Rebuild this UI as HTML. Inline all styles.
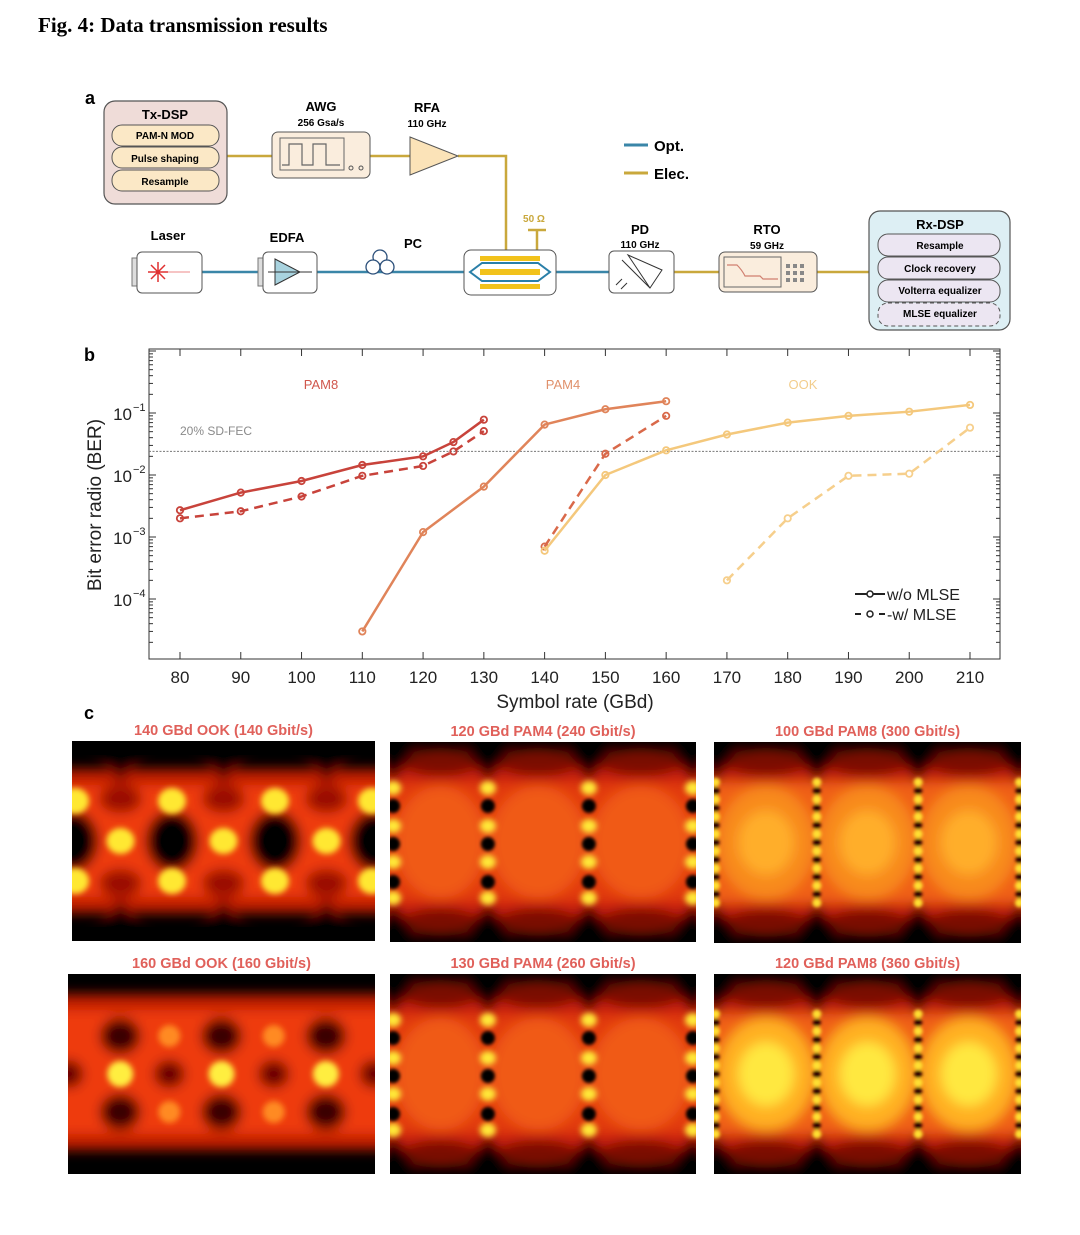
<!DOCTYPE html>
<html><head><meta charset="utf-8">
<style>
html,body{margin:0;padding:0;background:#fff;}
body{width:1080px;height:1235px;position:relative;overflow:hidden;font-family:"Liberation Sans",sans-serif;}
#title{position:absolute;left:38px;top:13px;font-family:"Liberation Serif",serif;font-weight:bold;font-size:21px;color:#000;}
svg{position:absolute;left:0;top:0;}
</style></head>
<body>
<div id="title">Fig. 4: Data transmission results</div>
<svg id="root" width="1080" height="1235" viewBox="0 0 1080 1235" xmlns="http://www.w3.org/2000/svg" font-family="Liberation Sans, sans-serif">
<defs>
<filter id="b6" x="-20%" y="-20%" width="140%" height="140%"><feGaussianBlur stdDeviation="6"/></filter>
<filter id="b3" x="-50%" y="-50%" width="200%" height="200%"><feGaussianBlur stdDeviation="3"/></filter>
<filter id="b2" x="-50%" y="-50%" width="200%" height="200%"><feGaussianBlur stdDeviation="1.6"/></filter>
</defs>
<!-- Panel a -->
<g id="diagram" font-weight="bold" text-anchor="middle">
<text x="90" y="104" font-size="18">a</text>
<g stroke="#c9a83c" stroke-width="2.5" fill="none">
<path d="M227 156 H272 M370 156 H410 M458 156 H506 V250"/>
<path d="M674 272 H719 M817 272 H869"/>
<path d="M537 250 V230 M528 230 H546"/>
</g>
<g stroke="#3a86a8" stroke-width="2.5" fill="none">
<path d="M202 272 H260 M317 272 H464 M556 272 H609"/>
</g>
<g>
<rect x="104" y="101" width="123" height="103" rx="11" fill="#efdcd8" stroke="#555" stroke-width="1.2"/>
<text x="165" y="119" font-size="13">Tx-DSP</text>
<rect x="112" y="125" width="107" height="21" rx="10" fill="#fbe8c6" stroke="#555"/>
<text x="165" y="139" font-size="10">PAM-N MOD</text>
<rect x="112" y="147" width="107" height="21" rx="10" fill="#fbe8c6" stroke="#555"/>
<text x="165" y="162" font-size="10">Pulse shaping</text>
<rect x="112" y="170" width="107" height="21" rx="10" fill="#fbe8c6" stroke="#555"/>
<text x="165" y="185" font-size="10">Resample</text>
</g>
<g>
<text x="321" y="111" font-size="13">AWG</text>
<text x="321" y="126" font-size="10">256 Gsa/s</text>
<rect x="272" y="132" width="98" height="46" rx="6" fill="#faeddd" stroke="#555"/>
<rect x="280" y="138" width="64" height="32" fill="none" stroke="#666"/>
<path d="M282 165 H289 V144 H302 V165 H313 V144 H326 V165 H340" fill="none" stroke="#666" stroke-width="1.2"/>
<circle cx="351" cy="168" r="2" fill="none" stroke="#555"/><circle cx="361" cy="168" r="2" fill="none" stroke="#555"/>
</g>
<g>
<text x="427" y="112" font-size="13">RFA</text>
<text x="427" y="127" font-size="10">110 GHz</text>
<path d="M410 137 L458 156 L410 175 Z" fill="#fbe3b8" stroke="#555"/>
</g>
<g text-anchor="start">
<line x1="624" y1="145" x2="648" y2="145" stroke="#3a86a8" stroke-width="3"/>
<text x="654" y="151" font-size="15">Opt.</text>
<line x1="624" y1="173" x2="648" y2="173" stroke="#c9a83c" stroke-width="3"/>
<text x="654" y="179" font-size="15">Elec.</text>
</g>
<g>
<text x="168" y="240" font-size="13">Laser</text>
<rect x="132" y="258" width="5" height="28" fill="#ddd" stroke="#777"/>
<rect x="137" y="252" width="65" height="41" rx="5" fill="#fff" stroke="#555"/>
<g stroke="#e03030" stroke-width="1.5"><path d="M148 272 H168 M158 262 V282 M151 265 L165 279 M165 265 L151 279"/></g>
<line x1="168" y1="272" x2="190" y2="272" stroke="#e88" stroke-width="1"/>
</g>
<g>
<text x="287" y="242" font-size="13">EDFA</text>
<rect x="258" y="258" width="5" height="28" fill="#ddd" stroke="#777"/>
<rect x="263" y="252" width="54" height="41" rx="5" fill="#fff" stroke="#555"/>
<path d="M275 259 L300 272 L275 285 Z" fill="#a9d3df" stroke="#333"/>
<line x1="268" y1="272" x2="312" y2="272" stroke="#333"/>
</g>
<g>
<text x="413" y="248" font-size="13">PC</text>
<g fill="#fff" stroke="#2b4f7a" stroke-width="1.3"><circle cx="380" cy="257" r="7"/><circle cx="373" cy="267" r="7"/><circle cx="387" cy="267" r="7"/></g>
</g>
<g>
<text x="534" y="222" font-size="10" fill="#c9a83c">50 Ω</text>
<rect x="464" y="250" width="92" height="45" rx="7" fill="#fff" stroke="#555"/>
<rect x="480" y="256" width="60" height="5" fill="#f2c21b"/>
<rect x="480" y="269" width="60" height="6" fill="#f2c21b"/>
<rect x="480" y="284" width="60" height="5" fill="#f2c21b"/>
<path d="M470 272 L482 263 H538 L550 272 L538 281 H482 Z" fill="none" stroke="#2a7fa8" stroke-width="2"/>
</g>
<g>
<text x="640" y="234" font-size="13">PD</text>
<text x="640" y="248" font-size="10">110 GHz</text>
<rect x="609" y="251" width="65" height="42" rx="5" fill="#fff" stroke="#555"/>
<path d="M622 260 L650 288 M628 255 L662 270 L650 288 Z M616 285 L622 279 M621 289 L627 283" fill="none" stroke="#333"/>
</g>
<g>
<text x="767" y="234" font-size="13">RTO</text>
<text x="767" y="249" font-size="10">59 GHz</text>
<rect x="719" y="252" width="98" height="40" rx="6" fill="#faeddd" stroke="#555"/>
<rect x="724" y="257" width="57" height="30" fill="none" stroke="#666"/>
<path d="M727 265 H737 Q742 270 745 276 H760 L763 279 H778" fill="none" stroke="#d08070" stroke-width="1.2"/>
<g fill="#888"><rect x="786" y="264" width="4" height="4"/><rect x="793" y="264" width="4" height="4"/><rect x="800" y="264" width="4" height="4"/><rect x="786" y="271" width="4" height="4"/><rect x="793" y="271" width="4" height="4"/><rect x="800" y="271" width="4" height="4"/><rect x="786" y="278" width="4" height="4"/><rect x="793" y="278" width="4" height="4"/><rect x="800" y="278" width="4" height="4"/></g>
</g>
<g>
<rect x="869" y="211" width="141" height="119" rx="11" fill="#ddeff4" stroke="#555" stroke-width="1.2"/>
<text x="940" y="229" font-size="13">Rx-DSP</text>
<rect x="878" y="234" width="122" height="22" rx="10" fill="#ece6f2" stroke="#555"/>
<text x="940" y="249" font-size="10">Resample</text>
<rect x="878" y="257" width="122" height="22" rx="10" fill="#ece6f2" stroke="#555"/>
<text x="940" y="272" font-size="10">Clock recovery</text>
<rect x="878" y="280" width="122" height="22" rx="10" fill="#ece6f2" stroke="#555"/>
<text x="940" y="294" font-size="10">Volterra equalizer</text>
<rect x="878" y="303" width="122" height="23" rx="10" fill="#ece6f2" stroke="#555" stroke-dasharray="4,3"/>
<text x="940" y="317" font-size="10">MLSE equalizer</text>
</g>
</g>

<text x="84" y="361" font-size="18" font-weight="bold">b</text>
<g id="chart"></g>

<text x="84" y="719" font-size="18" font-weight="bold">c</text>
<g id="eyes"></g>
</svg>
<script>
// ---- BER chart data ----
const xTicks = [80,90,100,110,120,130,140,150,160,170,180,190,200,210];
const yDecades = [-1,-2,-3,-4];
const pam8X = [80,90,100,110,120,125,130];
const pam8Solid = [2.7e-3,5.2e-3,8e-3,1.45e-2,2.0e-2,3.4e-2,7.8e-2];
const pam8Dash = [2.0e-3,2.6e-3,4.5e-3,9.7e-3,1.4e-2,2.4e-2,5.1e-2];
const pam4SolidX = [110,120,130,140,150,160];
const pam4Solid = [3e-5,1.2e-3,6.5e-3,6.5e-2,1.15e-1,1.55e-1];
const pam4DashX = [140,150,160];
const pam4Dash = [7e-4,2.2e-2,9e-2];
const ookSolidX = [140,150,160,170,180,190,200,210];
const ookSolid = [6e-4,1e-2,2.5e-2,4.5e-2,7e-2,9e-2,1.05e-1,1.35e-1];
const ookDashX = [170,180,190,200,210];
const ookDash = [2e-4,2e-3,9.7e-3,1.05e-2,5.8e-2];
const fecThreshold = 2.4e-2;

const NS="http://www.w3.org/2000/svg";
function mk(tag,attrs,parent){const e=document.createElementNS(NS,tag);for(const k in attrs)e.setAttribute(k,attrs[k]);parent.appendChild(e);return e;}
const chart=document.getElementById('chart');
const L=149,R=1000,T=349,B=659;
const xs=v=>180+(v-80)*(970-180)/130;
const ys=v=>413+(-1-Math.log10(v))*62;

const frame=mk('rect',{x:L,y:T,width:R-L,height:B-T,fill:'none',stroke:'#333','stroke-width':1},chart);


xTicks.forEach(t=>{
  const x=xs(t);
  mk('line',{x1:x,y1:B,x2:x,y2:B-7,stroke:'#333'},chart);
  mk('line',{x1:x,y1:T,x2:x,y2:T+7,stroke:'#333'},chart);
  const tx=mk('text',{x:x,y:683,'font-size':17,'text-anchor':'middle',fill:'#222'},chart);
  tx.textContent=t;
  
  
});
for(let d=-5;d<=0;d++){
  for(let m=1;m<10;m++){
    const v=m*Math.pow(10,d);const y=ys(v);
    if(y<T||y>B)continue;
    const len=m===1?7:4;
    mk('line',{x1:L,y1:y,x2:L+len,y2:y,stroke:'#333'},chart);
    mk('line',{x1:R,y1:y,x2:R-len,y2:y,stroke:'#333'},chart);
  }
}
yDecades.forEach(d=>{
  const y=ys(Math.pow(10,d));
  const tx=mk('text',{x:132,y:y+7,'font-size':17,'text-anchor':'end',fill:'#222'},chart);
  tx.textContent='10';
  
  
  const sp=mk('text',{x:133,y:y-2,'font-size':11,'text-anchor':'start',fill:'#222'},chart);
  sp.textContent=String(d).replace('-','−');
});
const yl=mk('text',{x:0,y:0,'font-size':19,'text-anchor':'middle',fill:'#222',transform:'translate(101,505) rotate(-90)'},chart);
yl.textContent='Bit error radio (BER)';


const xl=mk('text',{x:575,y:708,'font-size':19,'text-anchor':'middle',fill:'#222'},chart);
xl.textContent='Symbol rate (GBd)';


const fl=mk('line',{x1:L,x2:R,y1:ys(fecThreshold),y2:ys(fecThreshold),stroke:'#777','stroke-width':1,'stroke-dasharray':'2,1.5'},chart);


const ft=mk('text',{x:180,y:435,'font-size':12,fill:'#8a8a8a'},chart);
ft.textContent='20% SD-FEC';


[['PAM8',321,'#d0564c'],['PAM4',563,'#e0916c'],['OOK',803,'#f2cd8c']].forEach(a=>{
  const t=mk('text',{x:a[1],y:389,'font-size':13,'text-anchor':'middle',fill:a[2]},chart);
  t.textContent=a[0];
  
  
});
function series(xv,yv,color,dash,name){
  const g=mk('g',{},chart);
  
  
  const pts=xv.map((x,i)=>xs(x)+','+ys(yv[i])).join(' ');
  const attrs={points:pts,fill:'none',stroke:color,'stroke-width':2.5,'stroke-linejoin':'round'};
  if(dash)attrs['stroke-dasharray']='9,6';
  mk('polyline',attrs,g);
  xv.forEach((x,i)=>{mk('circle',{cx:xs(x),cy:ys(yv[i]),r:3.2,fill:'none',stroke:color,'stroke-width':1.8},g);});
}
series(pam8X,pam8Solid,'#c8433b',false,'pam8-without-mlse');
series(pam8X,pam8Dash,'#c8433b',true,'pam8-with-mlse');
series(pam4SolidX,pam4Solid,'#e0845a',false,'pam4-without-mlse');
series(pam4DashX,pam4Dash,'#d9694a',true,'pam4-with-mlse');
series(ookSolidX,ookSolid,'#f4c87c',false,'ook-without-mlse');
series(ookDashX,ookDash,'#f6cf8c',true,'ook-with-mlse');
const lg=mk('g',{},chart);


mk('line',{x1:855,y1:594,x2:885,y2:594,stroke:'#222','stroke-width':2},lg);
mk('circle',{cx:870,cy:594,r:3,fill:'#fff',stroke:'#222','stroke-width':1.5},lg);
let t1=mk('text',{x:887,y:600,'font-size':16,fill:'#222'},lg);t1.textContent='w/o MLSE';
mk('line',{x1:855,y1:614,x2:885,y2:614,stroke:'#222','stroke-width':2,'stroke-dasharray':'6,6'},lg);
mk('circle',{cx:870,cy:614,r:3,fill:'#fff',stroke:'#222','stroke-width':1.5},lg);
let t2=mk('text',{x:887,y:620,'font-size':16,fill:'#222'},lg);t2.textContent='-w/ MLSE';

// ---- Eye diagrams ----
const eyes=document.getElementById('eyes');
const panels=[
 {x:72,y:741,w:303,h:200,t:'140 GBd OOK (140 Gbit/s)',k:'ook1'},
 {x:390,y:742,w:306,h:200,t:'120 GBd PAM4 (240 Gbit/s)',k:'pam4a'},
 {x:714,y:742,w:307,h:201,t:'100 GBd PAM8 (300 Gbit/s)',k:'pam8a'},
 {x:68,y:974,w:307,h:200,t:'160 GBd OOK (160 Gbit/s)',k:'ook2'},
 {x:390,y:974,w:306,h:200,t:'130 GBd PAM4 (260 Gbit/s)',k:'pam4b'},
 {x:714,y:974,w:307,h:200,t:'120 GBd PAM8 (360 Gbit/s)',k:'pam8b'}];
panels.forEach((p,i)=>{
  const tt=mk('text',{x:p.x+p.w/2,y:p.y-6,'font-size':14.5,'font-weight':'bold','text-anchor':'middle',fill:'#e0605a'},eyes);
  tt.textContent=p.t;
  
  
  const cp=mk('clipPath',{id:'cp'+i},eyes);
  mk('rect',{x:p.x,y:p.y,width:p.w,height:p.h},cp);
  const g=mk('g',{'clip-path':'url(#cp'+i+')'},eyes);
  
  
  mk('rect',{x:p.x,y:p.y,width:p.w,height:p.h,fill:'#000'},g);
  const X=f=>p.x+f*p.w, Y=f=>p.y+f*p.h;
  const blur=mk('g',{filter:'url(#b6)'},g);
  const sp=mk('g',{filter:'url(#b3)'},g);
  if(p.k.startsWith('ook')){
    const two=p.k==='ook2';
    const t0=two?0.1:0.14, b0=two?0.88:0.86;
    mk('rect',{x:X(-0.05),y:Y(t0),width:p.w*1.1,height:p.h*(b0-t0),fill:'#c01a06'},blur);
    mk('rect',{x:X(-0.05),y:Y(t0+0.08),width:p.w*1.1,height:p.h*(b0-t0-0.16),fill:'#ee3a10'},blur);
    if(!two){
      [0.16,0.5,0.84].forEach(f=>{
        mk('path',{d:`M${X(f-0.1)} ${Y(0)} L${X(f+0.1)} ${Y(0)} L${X(f)} ${Y(0.2)} Z`,fill:'#000'},blur);
        mk('path',{d:`M${X(f-0.1)} ${Y(1)} L${X(f+0.1)} ${Y(1)} L${X(f)} ${Y(0.8)} Z`,fill:'#000'},blur);
      });
      [0,0.33,0.67,1].forEach(f=>mk('ellipse',{cx:X(f),cy:Y(0.5),rx:p.w*0.085,ry:p.h*0.15,fill:'#000'},blur));
      [0.16,0.5,0.84].forEach(f=>{mk('ellipse',{cx:X(f),cy:Y(0.29),rx:p.w*0.07,ry:p.h*0.07,fill:'#9a1004'},blur);mk('ellipse',{cx:X(f),cy:Y(0.71),rx:p.w*0.07,ry:p.h*0.07,fill:'#9a1004'},blur);});
      [[0.01,0.3],[0.33,0.3],[0.67,0.3],[0.99,0.3],[0.16,0.5],[0.5,0.5],[0.84,0.5],[0.01,0.7],[0.33,0.7],[0.67,0.7],[0.99,0.7]].forEach(a=>mk('ellipse',{cx:X(a[0]),cy:Y(a[1]),rx:14,ry:13,fill:'#ffe830'},sp));
    } else {
      [0.17,0.5,0.84].forEach(f=>{mk('ellipse',{cx:X(f),cy:Y(0.31),rx:p.w*0.065,ry:p.h*0.09,fill:'#3a0000'},blur);mk('ellipse',{cx:X(f),cy:Y(0.69),rx:p.w*0.065,ry:p.h*0.09,fill:'#3a0000'},blur);});
      [0,0.33,0.67,1].forEach(f=>mk('ellipse',{cx:X(f),cy:Y(0.5),rx:p.w*0.05,ry:p.h*0.07,fill:'#6a0400'},blur));
      [0.17,0.5,0.84].forEach(f=>mk('ellipse',{cx:X(f),cy:Y(0.5),rx:13,ry:13,fill:'#ffee40'},sp));
      [0.33,0.67].forEach(f=>{mk('ellipse',{cx:X(f),cy:Y(0.31),rx:11,ry:11,fill:'#ff8a20'},sp);mk('ellipse',{cx:X(f),cy:Y(0.69),rx:11,ry:11,fill:'#ff8a20'},sp);});
    }
  } else {
    const pam8=p.k.startsWith('pam8');
    const bright=p.k==='pam8b';
    const cols=pam8?[0.005,0.335,0.665,0.995]:[0.01,0.32,0.65,0.99];
    mk('rect',{x:X(-0.05),y:Y(0.1),width:p.w*1.1,height:p.h*0.8,fill:'#c81c08'},blur);
    mk('rect',{x:X(-0.05),y:Y(0.2),width:p.w*1.1,height:p.h*0.6,fill:pam8?'#f06018':'#e23a0e'},blur);
    for(let s=0;s<3;s++){
      const c=(cols[s]+cols[s+1])/2, hw=(cols[s+1]-cols[s])/2;
      mk('ellipse',{cx:X(c),cy:Y(0.5),rx:p.w*hw*0.95,ry:p.h*0.28,fill:pam8?(bright?'#ffb020':'#f88a1e'):'#f05a18'},blur);
      if(pam8) mk('ellipse',{cx:X(c),cy:Y(0.5),rx:p.w*hw*0.55,ry:p.h*0.16,fill:bright?'#ffe840':'#ffae2c'},blur);
      mk('ellipse',{cx:X(c),cy:Y(0.1),rx:p.w*hw*0.8,ry:p.h*0.07,fill:'#7a0a02'},blur);
      mk('ellipse',{cx:X(c),cy:Y(0.9),rx:p.w*hw*0.8,ry:p.h*0.07,fill:'#7a0a02'},blur);
    }
    cols.forEach(f=>{
      mk('path',{d:`M${X(f)-28} ${Y(0)} L${X(f)+28} ${Y(0)} L${X(f)} ${Y(0.2)} Z`,fill:'#000'},blur);
      mk('path',{d:`M${X(f)-28} ${Y(1)} L${X(f)+28} ${Y(1)} L${X(f)} ${Y(0.8)} Z`,fill:'#000'},blur);
    });
    const sd=mk('g',{filter:'url(#b2)'},g);
    if(!pam8){
      const yel=[0.23,0.42,0.6,0.78], blk=[0.32,0.51,0.7];
      cols.forEach(f=>{
        blk.forEach(v=>mk('circle',{cx:X(f),cy:Y(v),r:7,fill:'#000'},sd));
        yel.forEach(v=>mk('ellipse',{cx:X(f),cy:Y(v),rx:8,ry:7,fill:'#ffe838'},sp));
      });
    } else {
      cols.forEach(f=>{
        for(let j=0;j<15;j++){
          const v=0.2+j*0.6/14;
          if(j%2===0) mk('circle',{cx:X(f),cy:Y(v),r:4.5,fill:'#ffe030'},sd);
          else mk('circle',{cx:X(f),cy:Y(v),r:4,fill:'#2a0000'},sd);
        }
      });
    }
  }
});
</script>
</body></html>
